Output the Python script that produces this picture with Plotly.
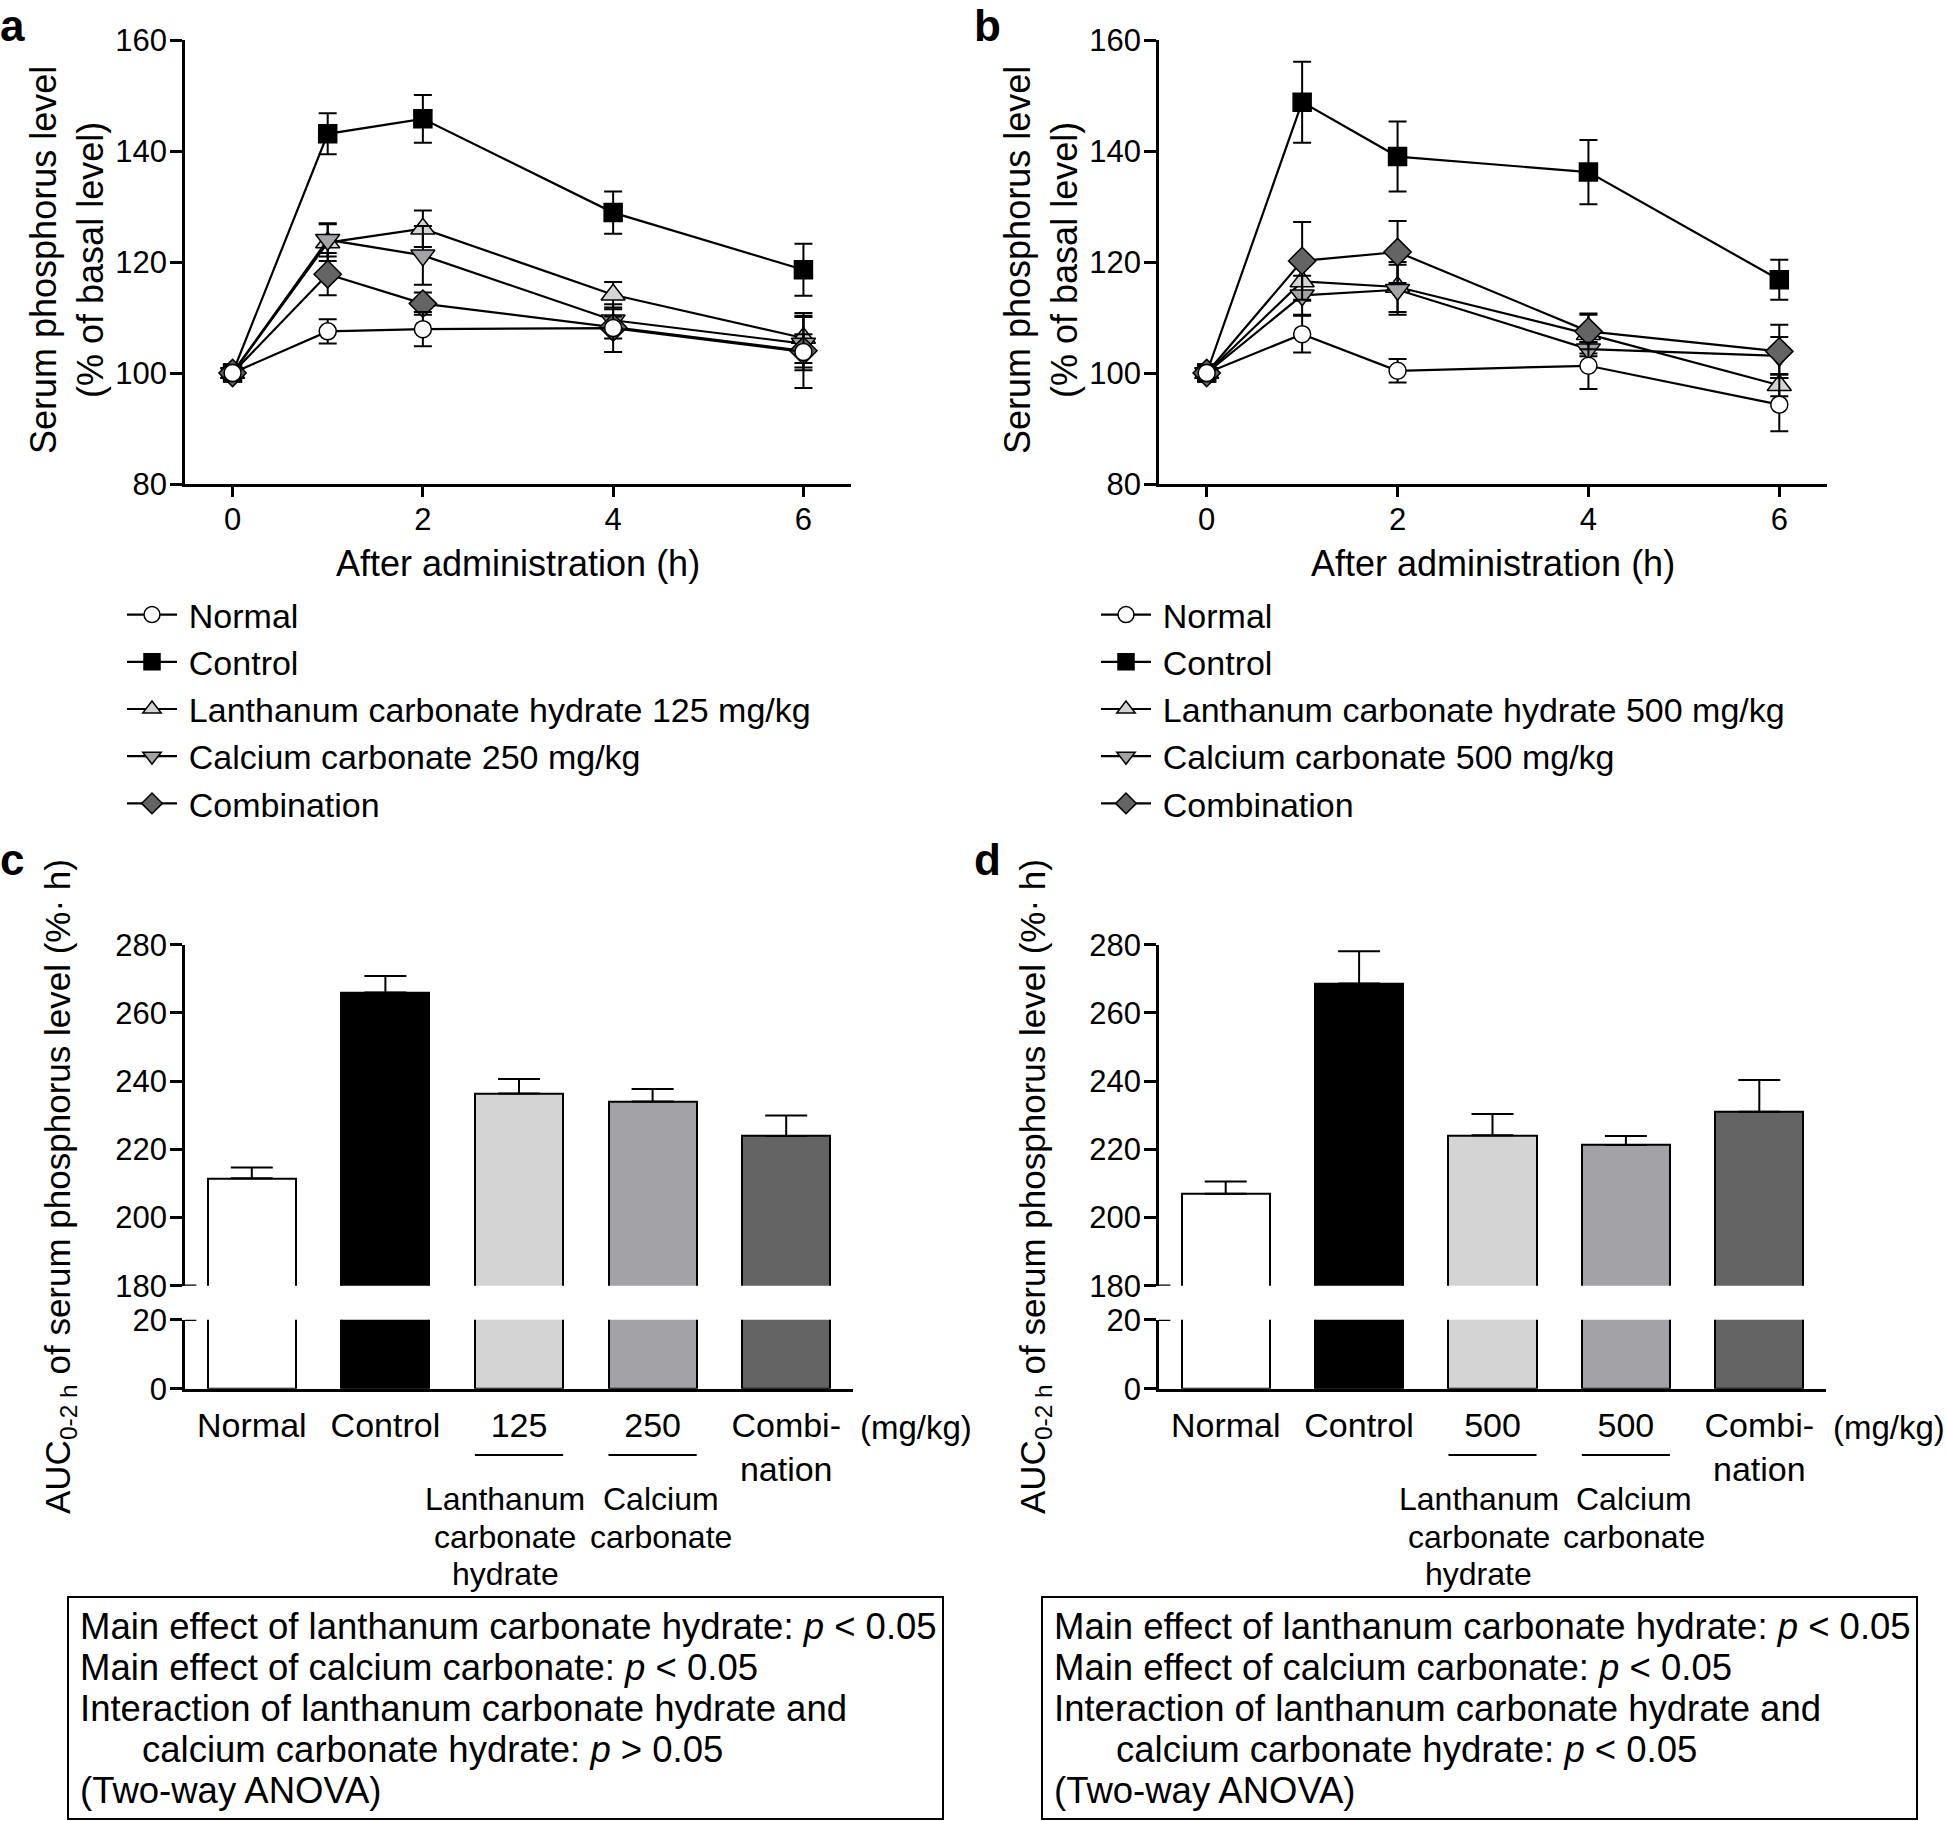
import plotly.graph_objects as go

W, H = 1946, 1821
OFF = 0  # page offset of the figure (body margin removed below)
FONT = "Liberation Sans, Arial, sans-serif"

# ---------------- data ----------------
times = [0, 1, 2, 4, 6]

a_normal = [100, 107.5, 107.9, 108.1, 103.8]
a_normal_err = [1.5, 2.2, 3.1, 4.3, 6.5]
a_control = [100, 143.1, 145.8, 128.9, 118.6]
a_control_err = [1.5, 3.7, 4.3, 3.8, 4.7]
a_lan = [100, 123.5, 126.0, 114.1, 106.3]
a_lan_err = [1.5, 3.3, 3.3, 2.3, 4.5]
a_ca = [100, 124.0, 121.2, 109.5, 105.3]
a_ca_err = [1.5, 3.0, 5.3, 2.0, 4.8]
a_combo = [100, 117.8, 112.5, 108.2, 104.0]
a_combo_err = [1.5, 3.8, 2.0, 2.0, 3.0]

b_normal = [100, 107.0, 100.4, 101.3, 94.3]
b_normal_err = [1.5, 3.3, 2.1, 4.2, 4.8]
b_control = [100, 148.8, 139.0, 136.2, 116.8]
b_control_err = [1.5, 7.3, 6.3, 5.8, 3.6]
b_lan = [100, 116.5, 115.5, 107.0, 97.8]
b_lan_err = [1.5, 3.5, 4.5, 3.5, 2.0]
b_ca = [100, 114.0, 115.0, 104.3, 103.1]
b_ca_err = [1.5, 3.5, 4.5, 1.3, 3.4]
b_combo = [100, 120.2, 121.8, 107.5, 103.9]
b_combo_err = [1.5, 7.0, 5.6, 3.2, 4.8]

legend_a = ["Normal", "Control", "Lanthanum carbonate hydrate 125 mg/kg",
            "Calcium carbonate 250 mg/kg", "Combination"]
legend_b = ["Normal", "Control", "Lanthanum carbonate hydrate 500 mg/kg",
            "Calcium carbonate 500 mg/kg", "Combination"]

bar_pos = [0, 1, 2, 3, 4]
c_ticktext = ["Normal", "Control", "125", "250", "Combi-<br>nation"]
d_ticktext = ["Normal", "Control", "500", "500", "Combi-<br>nation"]
c_vals = [211.5, 266.0, 236.4, 234.0, 223.9]
c_err = [3.2, 4.8, 4.2, 3.7, 6.0]
d_vals = [207.0, 268.6, 224.1, 221.3, 231.0]
d_err = [3.6, 9.5, 6.3, 2.6, 9.3]

upper_ticks = [180, 200, 220, 240, 260, 280]
lower_ticks = [0, 20]
line_yticks = [80, 100, 120, 140, 160]
line_xticks = [0, 2, 4, 6]

anova_c = ["Main effect of lanthanum carbonate hydrate: <i>p</i> < 0.05",
           "Main effect of calcium carbonate: <i>p</i> < 0.05",
           "Interaction of lanthanum carbonate hydrate and",
           "calcium carbonate hydrate: <i>p</i> > 0.05",
           "(Two-way ANOVA)"]
anova_d = ["Main effect of lanthanum carbonate hydrate: <i>p</i> < 0.05",
           "Main effect of calcium carbonate: <i>p</i> < 0.05",
           "Interaction of lanthanum carbonate hydrate and",
           "calcium carbonate hydrate: <i>p</i> < 0.05",
           "(Two-way ANOVA)"]

# ---------------- styles ----------------
fills = ["white", "black", "#d4d4d4", "#a3a3a7", "#646464"]
symbols = ["circle", "square", "triangle-up", "triangle-down", "diamond"]
msizes = [17, 18, 21, 21, 21]
draw_order = [1, 2, 3, 4, 0]


def fx(px):
    return (px - OFF) / W


def fy(py):
    return 1 - (py - OFF) / H


fig = go.Figure()

panels_line = [
    ("x", "y", "legend", legend_a,
     [a_normal, a_control, a_lan, a_ca, a_combo],
     [a_normal_err, a_control_err, a_lan_err, a_ca_err, a_combo_err]),
    ("x2", "y2", "legend2", legend_b,
     [b_normal, b_control, b_lan, b_ca, b_combo],
     [b_normal_err, b_control_err, b_lan_err, b_ca_err, b_combo_err]),
]
for xa, ya, leg, names, vals, errs in panels_line:
    for i in draw_order:
        fig.add_trace(go.Scatter(
            x=times, y=vals[i], xaxis=xa, yaxis=ya, mode="lines+markers",
            name="\u2009" + names[i], legend=leg, legendrank=i + 1,
            line=dict(color="black", width=2.2),
            marker=dict(symbol=symbols[i], size=msizes[i], color=fills[i],
                        line=dict(color="black", width=1.5)),
            error_y=dict(type="data", array=errs[i], visible=True,
                         color="black", thickness=2, width=9),
            cliponaxis=False,
        ))

bar_panels = [("x3", "y3", "x4", "y4", c_vals, c_err),
              ("x5", "y5", "x6", "y6", d_vals, d_err)]
for xu, yu, xl, yl, vals, err in bar_panels:
    fig.add_trace(go.Bar(
        x=bar_pos, y=vals, xaxis=xu, yaxis=yu, width=0.66, showlegend=False,
        marker=dict(color=fills, line=dict(color="black", width=2)),
        error_y=dict(type="data", array=err, arrayminus=[0] * len(err),
                     symmetric=False, color="black", thickness=2, width=21),
    ))
    fig.add_trace(go.Bar(
        x=bar_pos, y=vals, xaxis=xl, yaxis=yl, width=0.66, showlegend=False,
        marker=dict(color=fills, line=dict(color="black", width=2)),
    ))

axis_common = dict(showline=True, linecolor="black", linewidth=2.5,
                   showgrid=False, zeroline=False, ticks="outside",
                   tickcolor="black", tickwidth=2.5, automargin=False,
                   tickfont=dict(family=FONT, size=31, color="black"))

layout = dict(
    width=W, height=H, margin=dict(l=0, r=0, t=0, b=0, autoexpand=False),
    paper_bgcolor="white", plot_bgcolor="white",
    font=dict(family=FONT, size=35, color="black"),
    bargap=0,
)

# line panels
for k, (x0, x1) in zip(["", "2"], [(185, 851), (1159, 1827)]):
    layout["xaxis" + k] = dict(axis_common, domain=[fx(x0), fx(x1)],
                               anchor="y" + k, range=[-0.5, 6.5],
                               tickvals=line_xticks, ticklen=10,
                               ticklabelstandoff=-4)
    layout["yaxis" + k] = dict(axis_common, domain=[fy(484), fy(40)],
                               anchor="x" + k, range=[80, 160],
                               tickvals=line_yticks, ticklen=12,
                               ticklabelstandoff=-3)

# bar panels
for ku, kl, (x0, x1) in [("3", "4", (185, 853)), ("5", "6", (1159, 1826))]:
    layout["xaxis" + ku] = dict(domain=[fx(x0), fx(x1)], anchor="y" + ku,
                                range=[-0.5, 4.5], visible=False,
                                automargin=False)
    layout["yaxis" + ku] = dict(axis_common, domain=[fy(1285.8), fy(944.7)],
                                anchor="x" + ku, range=[180, 280],
                                tickvals=upper_ticks, ticklen=12,
                                ticklabelstandoff=-3)
    layout["xaxis" + kl] = dict(domain=[fx(x0), fx(x1)], anchor="y" + kl,
                                range=[-0.5, 4.5], showline=True,
                                linecolor="black", linewidth=2.5,
                                showgrid=False, zeroline=False, ticks="",
                                automargin=False, tickvals=bar_pos,
                                ticktext=c_ticktext if ku == "3" else d_ticktext,
                                tickfont=dict(family=FONT, size=34, color="black"),
                                ticklabelstandoff=5)
    layout["yaxis" + kl] = dict(axis_common, domain=[fy(1388.7), fy(1319.8)],
                                anchor="x" + kl, range=[0, 20],
                                tickvals=lower_ticks, ticklen=12,
                                ticklabelstandoff=-3)

for leg, xpx in [("legend", 122), ("legend2", 1096)]:
    layout[leg] = dict(x=fx(xpx), y=fy(586), xanchor="left", yanchor="top",
                       bgcolor="rgba(0,0,0,0)", borderwidth=0,
                       font=dict(family=FONT, size=34, color="black"),
                       itemwidth=50, tracegroupgap=0, traceorder="normal")

fig.update_layout(**layout)

ann = []
shapes = []

# panel letters
for letter, xpx, ypx in [("a", -2, -1), ("b", 972, -1), ("c", -2, 833), ("d", 972, 833)]:
    ann.append(dict(text="<b>%s</b>" % letter, x=fx(xpx), y=fy(ypx),
                    xref="paper", yref="paper", xanchor="left", yanchor="top",
                    showarrow=False, font=dict(family=FONT, size=44, color="black")))

# line panel axis titles
for xa, ycx in [("x", 67), ("x2", 1041)]:
    ann.append(dict(text="After administration (h)", x=0.5, y=fy(563),
                    xref=xa + " domain", yref="paper", xanchor="center",
                    yanchor="middle", showarrow=False,
                    font=dict(family=FONT, size=36, color="black")))
    ann.append(dict(text="Serum phosphorus level<br>(% of basal level)",
                    x=fx(ycx), y=fy(260), xref="paper", yref="paper",
                    xanchor="center", yanchor="middle", textangle=-90,
                    showarrow=False,
                    font=dict(family=FONT, size=36, color="black")))

# bar panel extras
for xl, xcpx, offs, mgx, anova in [("x4", 60, 0, 916, anova_c),
                                   ("x6", 1035, 974, 1889, anova_d)]:
    ann.append(dict(text="AUC<sub>0-2 h</sub> of serum phosphorus level (%\u00b7 h)",
                    x=fx(xcpx), y=fy(1187), xref="paper", yref="paper",
                    xanchor="center", yanchor="middle", textangle=-90,
                    showarrow=False,
                    font=dict(family=FONT, size=35, color="black")))
    ann.append(dict(text="(mg/kg)", x=fx(mgx), y=fy(1427), xref="paper",
                    yref="paper", xanchor="center", yanchor="middle",
                    showarrow=False,
                    font=dict(family=FONT, size=33, color="black")))
    for pos, lines, shift in [(2, ["Lanthanum", "carbonate", "hydrate"], -14),
                              (3, ["Calcium", "carbonate"], 8)]:
        shapes.append(dict(type="line", xref=xl, yref="paper",
                           x0=pos - 0.33, x1=pos + 0.33, y0=fy(1455), y1=fy(1455),
                           line=dict(color="black", width=2)))
        for j, t in enumerate(lines):
            ann.append(dict(text=t, x=pos, y=fy(1499 + 37.5 * j), xref=xl,
                            yref="paper", xanchor="center", yanchor="middle",
                            xshift=shift, showarrow=False,
                            font=dict(family=FONT, size=32, color="black")))
    # ANOVA box
    shapes.append(dict(type="rect", xref="paper", yref="paper",
                       x0=fx(68 + offs), x1=fx(943 + offs), y0=fy(1819), y1=fy(1597),
                       line=dict(color="black", width=2)))
    for j, t in enumerate(anova):
        xs = 140 if j == 3 else 78
        ann.append(dict(text=t, x=fx(xs + offs), y=fy(1626 + 41.2 * j),
                        xref="paper", yref="paper", xanchor="left",
                        yanchor="middle", showarrow=False,
                        font=dict(family=FONT, size=36.5, color="black")))

# axis break marks
for xd, yu, xd2, yl in [("x3 domain", "y3", "x4 domain", "y4"),
                        ("x5 domain", "y5", "x6 domain", "y6")]:
    shapes.append(dict(type="line", xref=xd, yref=yu, x0=0, x1=0.017, y0=180, y1=180,
                       line=dict(color="black", width=2.5)))
    shapes.append(dict(type="line", xref=xd2, yref=yl, x0=0, x1=0.017, y0=20, y1=20,
                       line=dict(color="black", width=2.5)))

fig.update_layout(annotations=ann, shapes=shapes)
fig.write_html("out.html", config={"displayModeBar": False},
               post_script="document.body.style.margin='0px';"
                           "document.body.style.overflow='hidden';")
